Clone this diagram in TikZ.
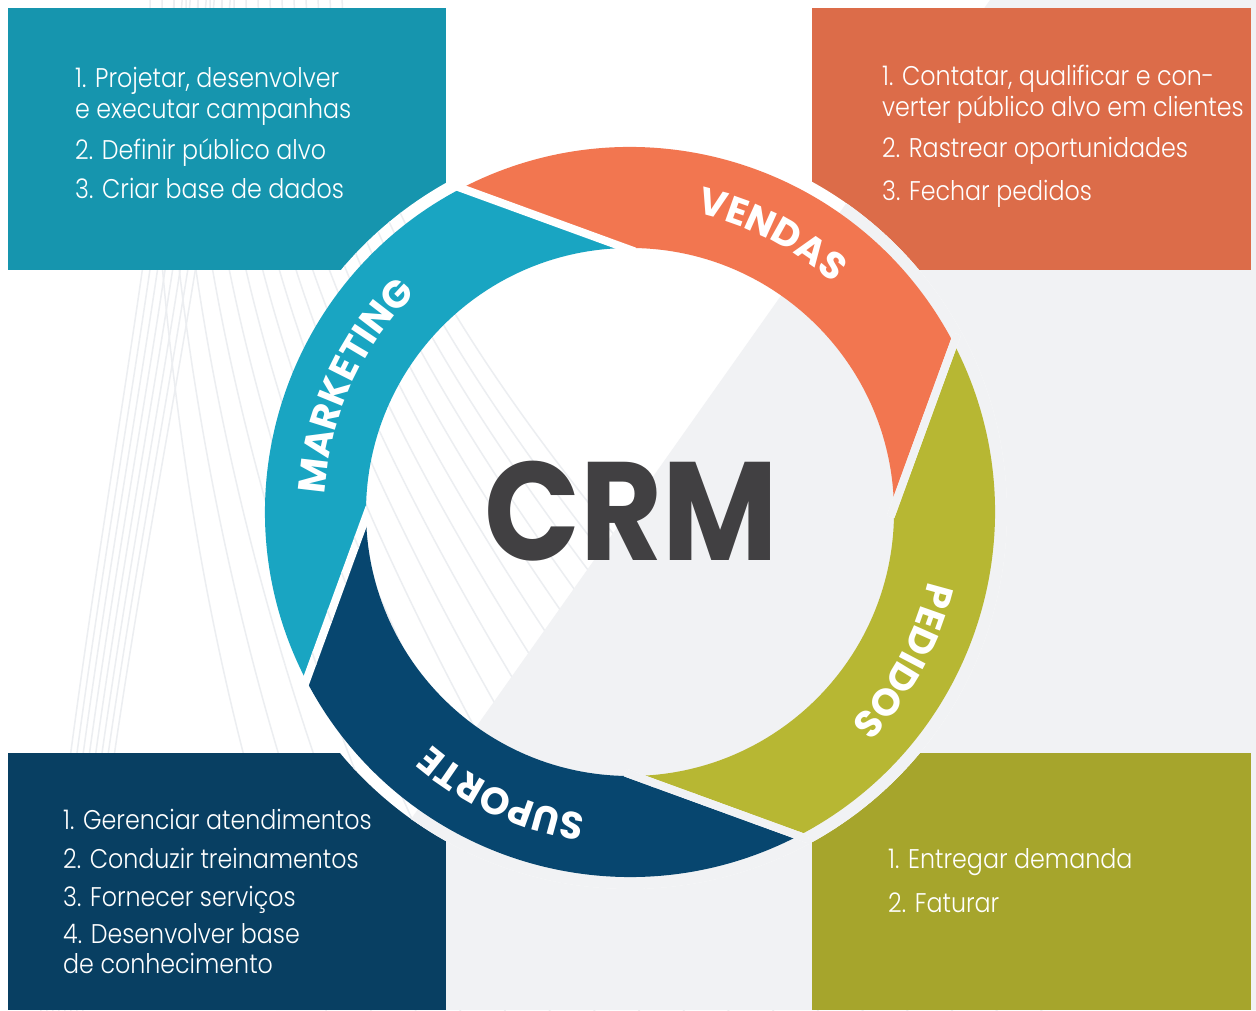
\documentclass[tikz,border=0pt]{standalone}
\usepackage{fontspec}
\usepackage{graphicx}
\usetikzlibrary{calc,decorations.text}
\setmainfont{Poppins}
\newfontfamily\crmfont{Poppins}
\IfFontExistsTF{Poppins Light}{\newfontfamily\bodyfont{Poppins Light}[FakeStretch=0.88]}{\newfontfamily\bodyfont{Poppins}[FakeStretch=0.88]}
\newcommand\lblfont{\crmfont\bfseries\fontsize{38}{40}\selectfont}

\definecolor{bgg}{HTML}{F1F2F4}
\definecolor{faint}{HTML}{ECEEF1}
\definecolor{tealbox}{HTML}{1695AE}
\definecolor{tealring}{HTML}{19A5C2}
\definecolor{orgbox}{HTML}{DC6C49}
\definecolor{orgring}{HTML}{F27650}
\definecolor{navybox}{HTML}{083F62}
\definecolor{navyring}{HTML}{07466F}
\definecolor{olvbox}{HTML}{A6A52C}
\definecolor{olvring}{HTML}{B7B733}
\definecolor{crmgray}{HTML}{414042}

\tikzset{
  faintline/.style={draw=faint, line width=1.5pt},
  itemtext/.style={anchor=base west, inner sep=0pt, text=white, font={\bodyfont\fontsize{27}{32}\selectfont}},
  ringlabel/.style={decorate, decoration={text along path, text align=center, text color=white}},
}

\newcommand\bgdraw{%
  \fill[white] (0,0) rectangle (1256,1010);
  \foreach \j in {0,...,7}{
    \draw[faintline] (175+8*\j,1020) .. controls (150+8*\j,710) and (80+6*\j,410) .. (40+6*\j,-10);
  }
  \foreach \i in {0,...,16}{
    \draw[faintline] (150+12*\i,1020) .. controls (150+12*\i,710) and (200+35*\i,310) .. (330+45*\i,-10);
  }
  \fill[bgg] (276,0) -- (990,1010) -- (1256,1010) -- (1256,0) -- cycle;
}

\begin{document}
\begin{tikzpicture}[x=1pt,y=1pt]
\useasboundingbox (0,0) rectangle (1256,1010);
\clip (0,0) rectangle (1256,1010);
\coordinate (C) at (630,498);

% background
\bgdraw

% corner boxes
\fill[tealbox] (8,740) rectangle (446,1002);
\fill[orgbox]  (812,740) rectangle (1251,1002);
\fill[navybox] (8,0) rectangle (446,257);
\fill[olvbox]  (812,0) rectangle (1251,257);

% band around the ring
\begin{scope}
  \clip (C) circle[radius=377pt];
  \bgdraw
\end{scope}

% ring segments
\begin{scope}[shift={(630,498)}]
  \fill[tealring] (207.5:365pt) arc[start angle=207.5, end angle=117.5, radius=365pt]
     -- (91:264pt) arc[start angle=91, end angle=181, radius=264pt] -- cycle;
  \fill[orgring] (117.5:365pt) arc[start angle=117.5, end angle=27.5, radius=365pt]
     -- (1:264pt) arc[start angle=1, end angle=91, radius=264pt] -- cycle;
  \fill[olvring] (27.5:365pt) arc[start angle=27.5, end angle=-62.5, radius=365pt]
     -- (-89:264pt) arc[start angle=-89, end angle=1, radius=264pt] -- cycle;
  \fill[navyring] (-62.5:365pt) arc[start angle=-62.5, end angle=-152.5, radius=365pt]
     -- (-179:264pt) arc[start angle=-179, end angle=-89, radius=264pt] -- cycle;
\end{scope}

% gaps between segments
\foreach \ao/\ai in {117.5/91, 27.5/1, -62.5/-89, -152.5/-179}{
  \coordinate (go) at ($(C)+(\ao:365pt)$);
  \coordinate (gi) at ($(C)+(\ai:264pt)$);
  \coordinate (goe) at ($(go)!-10pt!(gi)$);
  \coordinate (gie) at ($(gi)!-10pt!(go)$);
  \begin{scope}
    \clip ($(goe)!4pt!90:(gie)$) -- ($(gie)!4pt!-90:(goe)$) -- ($(gie)!4pt!90:(goe)$) -- ($(goe)!4pt!-90:(gie)$) -- cycle;
    \bgdraw
  \end{scope}
}

% ring labels
\path[ringlabel, decoration={text={|\lblfont|VENDAS}}] ($(C)+(112.9:306pt)$) arc[start angle=112.9, end angle=12.9, radius=306pt];
\path[ringlabel, decoration={text={|\lblfont|PEDIDOS}}] ($(C)+(21.5:306pt)$) arc[start angle=21.5, end angle=-78.5, radius=306pt];
\path[ringlabel, decoration={text={|\lblfont|SUPORTE}}] ($(C)+(295.6:306pt)$) arc[start angle=295.6, end angle=195.6, radius=306pt];
\path[ringlabel, decoration={text={|\lblfont|MARKETING}}] ($(C)+(205.5:306pt)$) arc[start angle=205.5, end angle=105.5, radius=306pt];

% centre title
\node[text=crmgray, font={\crmfont\bfseries\fontsize{140}{140}\selectfont}, inner sep=0pt] (crm) at (631,499) {\scalebox{0.9}[1]{CRM}};

% Marketing box text
\node[itemtext] (m1) at (75,922) {1. Projetar, desenvolver};
\node[itemtext] (m2) at (75,891) {e executar campanhas};
\node[itemtext] (m3) at (75,850) {2. Definir público alvo};
\node[itemtext] (m4) at (75,811) {3. Criar base de dados};

% Vendas box text
\node[itemtext] (v1) at (882,924) {1. Contatar, qualificar e con-};
\node[itemtext] (v2) at (882,893) {verter público alvo em clientes};
\node[itemtext] (v3) at (882,852) {2. Rastrear oportunidades};
\node[itemtext] (v4) at (882,809) {3. Fechar pedidos};

% Suporte box text
\node[itemtext] (s1) at (63,180) {1. Gerenciar atendimentos};
\node[itemtext] (s2) at (63,142) {2. Conduzir treinamentos};
\node[itemtext] (s3) at (63,104) {3. Fornecer serviços};
\node[itemtext] (s4) at (63,67) {4. Desenvolver base};
\node[itemtext] (s5) at (63,37) {de conhecimento};

% Pedidos box text
\node[itemtext] (p1) at (888,141) {1. Entregar demanda};
\node[itemtext] (p2) at (888,98) {2. Faturar};
\end{tikzpicture}
\end{document}
